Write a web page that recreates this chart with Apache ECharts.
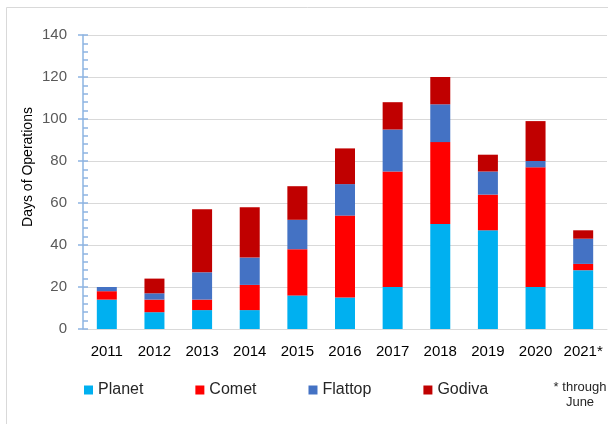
<!DOCTYPE html>
<html>
<head>
<meta charset="utf-8">
<script src="https://cdn.jsdelivr.net/npm/echarts@6/dist/echarts.min.js"></script>
<style>html,body{margin:0;padding:0;background:#fff}#c{width:608px;height:424px}</style>
</head>
<body>
<div id="c"></div>
<script>
const years = ['2011','2012','2013','2014','2015','2016','2017','2018','2019','2020','2021*'];
const planet  = [14, 8, 9, 9, 16, 15, 20, 50, 47, 20, 28];
const comet   = [4, 6, 5, 12, 22, 39, 55, 39, 17, 57, 3];
const flattop = [2, 3, 13, 13, 14, 15, 20, 18, 11, 3, 12];
const godiva  = [0, 7, 30, 24, 16, 17, 13, 13, 8, 19, 4];
const yTicks = [0, 20, 40, 60, 80, 100, 120, 140];

const font = "'Liberation Sans', Arial, sans-serif";
const axisBlue = '#8DB4E2';
function mk(name, data, color) {
  return { name, type: 'bar', stack: 'total', data, barWidth: 20, yAxisIndex: 0,
    itemStyle: { color }, emphasis: { disabled: true } };
}
const chart = echarts.init(document.getElementById('c'), null, { renderer: 'canvas' });
chart.setOption({
  animation: false,
  backgroundColor: '#fff',
  textStyle: { fontFamily: font },
  grid: { left: 83, right: 1, top: 35, bottom: 95, containLabel: false },
  xAxis: {
    type: 'category', data: years,
    axisLine: { lineStyle: { color: '#d9d9d9', width: 1 } },
    axisTick: { show: false },
    axisLabel: { color: '#000', fontSize: 15, margin: 15, interval: 0, fontFamily: font }
  },
  yAxis: [{
    type: 'value', min: yTicks[0], max: yTicks[yTicks.length - 1], interval: 20,
    axisLine: { show: true, lineStyle: { color: axisBlue, width: 1.5 } },
    axisTick: { show: true, length: 5, lineStyle: { color: axisBlue, width: 1.5 } },
    axisLabel: { color: '#595959', fontSize: 15, margin: 16, fontFamily: font },
    splitLine: { lineStyle: { color: '#d9d9d9', width: 1 } }
  }, {
    type: 'value', min: 0, max: 140, interval: 4, position: 'left',
    axisLine: { show: false },
    axisTick: { show: true, inside: true, length: 5, lineStyle: { color: axisBlue, width: 1.5 } },
    axisLabel: { show: false },
    splitLine: { show: false }
  }],
  legend: {
    left: 79, top: 377, itemWidth: 9, itemHeight: 9, itemGap: 52,
    icon: 'rect',
    textStyle: { color: '#262626', fontSize: 16, fontFamily: font },
    data: ['Planet', 'Comet', 'Flattop', 'Godiva']
  },
  graphic: [
    { type: 'rect', shape: { x: 6.5, y: 7.5, width: 700, height: 600 },
      style: { fill: 'none', stroke: '#d9d9d9', lineWidth: 1 }, silent: true },
    { type: 'text', x: 28, y: 167, rotation: Math.PI / 2,
      style: { text: 'Days of Operations', fill: '#000', fontSize: 14,
        fontFamily: "'Liberation Sans Narrow', 'Liberation Sans', sans-serif",
        textAlign: 'center', textVerticalAlign: 'middle' } },
    { type: 'text', x: 580, y: 380,
      style: { text: '* through\nJune', fill: '#262626', fontSize: 13, lineHeight: 15,
        textAlign: 'center', fontFamily: font } }
  ],
  series: [
    mk('Planet', planet, '#00B0F0'),
    mk('Comet', comet, '#FF0000'),
    mk('Flattop', flattop, '#4472C4'),
    mk('Godiva', godiva, '#C00000')
  ]
});
</script>
</body>
</html>
